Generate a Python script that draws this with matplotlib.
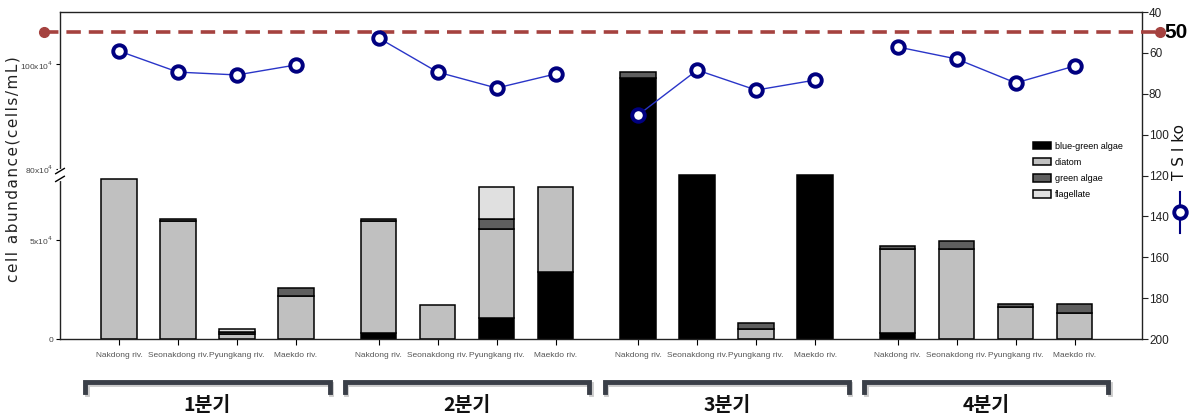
import numpy as np
import matplotlib
matplotlib.use("Agg")
import matplotlib.pyplot as plt
import matplotlib.patheffects as pe
from matplotlib.lines import Line2D

plt.rcParams['font.family'] = ['Liberation Sans Narrow', 'Liberation Sans', 'DejaVu Sans']

# ---- data (cell abundance in 10^4 cells/mL, TSIko) ----
quarters = ['1분기', '2분기', '3분기', '4분기']
sites = ['Nakdong riv.', 'Seonakdong riv.', 'Pyungkang riv.', 'Maekdo riv.']
blue_green = [0, 0, 0, 0,
              0.3, 0, 1.06, 3.38,
              97.5, 8.3, 0, 8.3,
              0.3, 0, 0, 0]
diatom = [8.08, 5.95, 0.25, 2.2,
          5.65, 1.72, 4.5, 4.3,
          0, 0, 0.5, 0,
          4.25, 4.55, 1.62, 1.31]
green_algae = [0, 0.1, 0.13, 0.4,
               0.1, 0, 0.5, 0,
               1.0, 0, 0.3, 0,
               0.15, 0.4, 0.15, 0.46]
flagellate = [0, 0, 0.13, 0,
              0, 0, 1.62, 0,
              0, 0, 0, 0,
              0, 0, 0, 0]
tsi = [59.1, 69.4, 70.8, 65.9,
       52.7, 69.4, 77.2, 70.3,
       90.4, 68.4, 78.2, 73.3,
       57.1, 63.0, 74.7, 66.4]
tsi_ref = 50

layers = [('blue-green algae', blue_green, '#000000'),
          ('diatom', diatom, '#c0c0c0'),
          ('green algae', green_algae, '#5f5f5f'),
          ('flagellate', flagellate, '#e0e0e0')]

# broken left axis: 0..8.3 below the break, 78.9..110 above it
B_LOW, B_HIGH = 8.3, 78.9
K_LOW, K_HIGH = 19.8, 5.25


def fwd(v):
    v = np.asarray(v, dtype=float)
    return np.where(v <= B_LOW, v * K_LOW,
                    B_LOW * K_LOW + np.clip(v - B_HIGH, 0, None) * K_HIGH)


def inv(h):
    h = np.asarray(h, dtype=float)
    hb = B_LOW * K_LOW
    return np.where(h <= hb, h / K_LOW, B_HIGH + (h - hb) / K_HIGH)


n_q, n_s = len(quarters), len(sites)
group_step = 4.4
xpos = np.array([g * group_step + j for g in range(n_q) for j in range(n_s)])

fig = plt.figure(figsize=(12, 4.17), dpi=100)
ax = fig.add_axes([0.05, 0.187, 0.9017, 0.7842])
ax.set_yscale('function', functions=(fwd, inv))
ax.set_ylim(0, 110)
ax.set_xlim(-1.0, 17.34)

bottom = np.zeros(len(xpos))
for label, vals, col in layers:
    vals = np.asarray(vals, dtype=float)
    keep = vals > 0
    ax.bar(xpos[keep], vals[keep], bottom=bottom[keep], width=0.6,
           color=col, edgecolor='black', linewidth=1.1, label=label, zorder=2)
    bottom += vals

ax.set_yticks([0, 5, 80, 100])
ax.set_yticklabels(['0', r'5x10$^4$', r'80x10$^4$', r'100x10$^4$'],
                   fontsize=6, color='#444444')
ax.tick_params(axis='y', length=3, pad=2)
ax.set_xticks(xpos)
ax.set_xticklabels(sites * n_q, fontsize=6, color='#555555')
ax.tick_params(axis='x', length=4, pad=5)
for s in ax.spines.values():
    s.set_linewidth(1.0)
    s.set_color('#222222')

# break mark on the left spine
yb = fwd(B_LOW) / fwd(110)
ax.plot([0, 0], [yb - 0.012, yb + 0.012], transform=ax.transAxes,
        color='white', lw=3, clip_on=False, zorder=6)
for dy in (-0.012, 0.012):
    ax.plot([-0.004, 0.004], [yb + dy - 0.008, yb + dy + 0.008],
            transform=ax.transAxes, color='black', lw=1, clip_on=False, zorder=7)

# TSI on the right axis
ax2 = ax.twinx()
ax2.set_ylim(200, 40)
ax2.set_yticks(np.arange(40, 201, 20))
ax2.tick_params(axis='y', labelsize=8.5, length=4, pad=1, colors='#222222')
for s in ax2.spines.values():
    s.set_visible(False)

tsi_arr = np.asarray(tsi)
for g in range(n_q):
    sl = slice(g * n_s, (g + 1) * n_s)
    ax2.plot(xpos[sl], tsi_arr[sl], color='#2a35c8', lw=1.0, marker='o',
             markersize=9, markerfacecolor='white', markeredgecolor='#000080',
             markeredgewidth=2.8, zorder=5)

ax2.plot([-0.015, 1.017], [tsi_ref, tsi_ref], transform=ax2.get_yaxis_transform(),
         color='#a5423f', lw=2.6, dashes=(4, 2.2), marker='o', markersize=7,
         clip_on=False, zorder=4)
ax2.text(1.021, tsi_ref, str(tsi_ref), transform=ax2.get_yaxis_transform(),
         ha='left', va='center', fontsize=15, fontweight='bold',
         family=['Liberation Sans', 'DejaVu Sans'])

# legend
ax.legend(loc='upper left', bbox_to_anchor=(1028 / 1200, 1 - 137 / 417),
          bbox_transform=fig.transFigure, frameon=False, fontsize=6.5,
          handlelength=2.1, handleheight=0.9, labelspacing=0.8,
          handletextpad=0.4, borderpad=0)

# axis titles (hair spaces to mimic the letter spacing of the original)
ylab = '\u200a'.join('cell abundance(cells/mL)')
fig.text(13 / 1200, 1 - 169 / 417, ylab, rotation=90,
         ha='center', va='center', fontsize=11, color='#222222',
         family=['DejaVu Sans'])
fig.text(1180 / 1200, 1 - 152 / 417, 'T S I ko', rotation=90,
         ha='center', va='center', fontsize=11, color='#111111',
         family=['DejaVu Sans'])
fig.add_artist(Line2D([1180 / 1200] * 2, [1 - 192 / 417, 1 - 233 / 417],
                      transform=fig.transFigure, color='#000080', lw=1.5))
fig.add_artist(Line2D([1180 / 1200], [1 - 212 / 417], transform=fig.transFigure,
                      marker='o', markersize=9, markerfacecolor='white',
                      markeredgecolor='#000080', markeredgewidth=2.8))

# quarter brackets
tr = ax.get_xaxis_transform()
shadow = [pe.SimpleLineShadow(offset=(1, -1.5), alpha=0.2), pe.Normal()]
for g, q in enumerate(quarters):
    c = g * group_step + (n_s - 1) / 2
    x0, x1 = c - 2.07, c + 2.07
    ax.plot([x0, x0, x1, x1], [-0.163, -0.131, -0.131, -0.163], transform=tr,
            color='#3a3f48', lw=3.5, clip_on=False, solid_joinstyle='miter',
            path_effects=shadow)
    ax.text(c, -0.202, q, transform=tr, ha='center', va='center', fontsize=14,
            fontweight='bold', family=['Noto Sans CJK KR'], color='#111111')

fig.savefig('out.png', dpi=100)
